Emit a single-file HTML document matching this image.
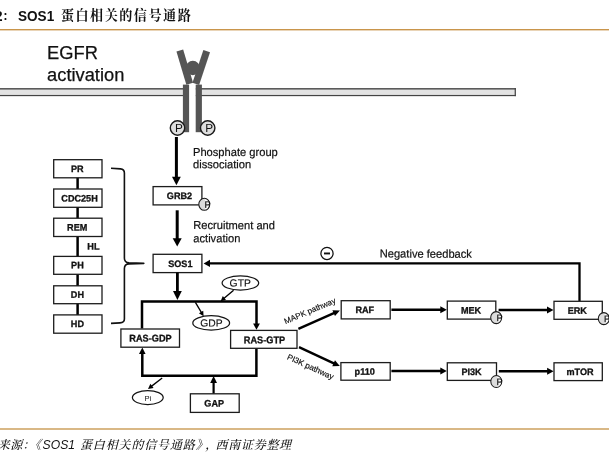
<!DOCTYPE html>
<html lang="zh">
<head>
<meta charset="utf-8">
<title>SOS1 蛋白相关的信号通路</title>
<style>
html,body{margin:0;padding:0;background:#fff;}
#page{position:relative;width:609px;height:453px;overflow:hidden;background:#fff;}
svg{position:absolute;left:0;top:0;display:block;will-change:opacity;}
text{font-family:"Liberation Sans","Noto Serif CJK SC",sans-serif;fill:#111;}
.cjk text{font-family:"Liberation Sans","Noto Serif CJK SC",serif;}
.bx{fill:#fff;stroke:#1c1c1c;stroke-width:1.3;}
.bt{stroke:#111;stroke-width:0.3px;font-weight:bold;text-anchor:middle;fill:#111;}
.lb{font-size:11.15px;fill:#111;stroke:#111;stroke-width:0.2px;}
.pc{fill:#dedede;stroke:#1a1a1a;stroke-width:1.4;}
.ov{fill:#fff;stroke:#151515;stroke-width:1.25;}
</style>
</head>
<body>
<div id="page">
<svg width="609" height="453" viewBox="0 0 609 453">
<defs>
<clipPath id="cps"><ellipse cx="0" cy="0" rx="5.5" ry="6"/></clipPath>
</defs>

<!-- title -->
<g class="cjk" font-weight="bold">
<text x="-24.2" y="20.8" font-size="14.6">图 2</text>
<text x="2.3" y="21" font-size="12">：</text>
<text x="18" y="20.7" font-size="15.4" textLength="36.2" lengthAdjust="spacingAndGlyphs">SOS1</text>
<text x="60.9" y="20.3" font-size="13.1" letter-spacing="1.5">蛋白相关的信号通路</text>
</g>
<rect x="0" y="29" width="609" height="1.4" fill="#c9954b"/>

<!-- EGFR label -->
<text x="47.1" y="59.1" font-size="18.3" fill="#111" stroke="#111" stroke-width="0.25">EGFR</text>
<text x="47.1" y="80.9" font-size="18.3" fill="#111" stroke="#111" stroke-width="0.25">activation</text>

<!-- membrane -->
<rect x="0" y="88.5" width="515.3" height="7" fill="#e3e3e3"/>
<rect x="0" y="88.1" width="515.9" height="1.45" fill="#4c4c4c"/>
<rect x="0" y="94.95" width="515.9" height="1.2" fill="#444"/>
<rect x="514.65" y="88.1" width="1.25" height="8.05" fill="#444"/>

<!-- receptor -->
<rect x="189" y="84.6" width="6.8" height="47.6" fill="#fff"/>
<rect x="182.9" y="84.6" width="6.2" height="47.6" fill="#555"/>
<rect x="195.7" y="84.6" width="6.2" height="47.6" fill="#555"/>
<line x1="179.8" y1="50.6" x2="189.7" y2="83.8" stroke="#555" stroke-width="7"/>
<line x1="206.7" y1="51.1" x2="195.8" y2="83.8" stroke="#555" stroke-width="7"/>
<circle cx="192.8" cy="68" r="7.2" fill="#555"/>

<!-- P circles at receptor -->
<circle class="pc" cx="177.5" cy="128" r="7.2"/>
<text x="179" y="132.4" font-size="11.8" text-anchor="middle">P</text>
<circle class="pc" cx="207.7" cy="128" r="7.2"/>
<text x="209.2" y="132.4" font-size="11.8" text-anchor="middle">P</text>

<!-- P to GRB2 -->
<line x1="176.4" y1="137" x2="176.4" y2="177.5" stroke="#000" stroke-width="3"/>
<polygon fill="#000" points="176.4,185.3 172,176.7 180.8,176.7"/>
<text class="lb" transform="translate(193.0,155.9) rotate(0.05) scale(1,1.035)">Phosphate group</text>
<text class="lb" transform="translate(193.0,168.3) rotate(0.05) scale(1,1.035)">dissociation</text>
<rect class="bx" x="153.1" y="186.6" width="48.8" height="18.3"/>
<text class="bt" font-size="9.3" transform="translate(179.5,199.1) rotate(0.05) scale(0.98,1)">GRB2</text>
<g transform="translate(204.3,204.3)"><ellipse rx="5.5" ry="6" fill="#dcdcdc"/><rect x="0.8" y="-6" width="6" height="12" fill="#fafafa" clip-path="url(#cps)"/><ellipse rx="5.5" ry="6" fill="none" stroke="#1a1a1a" stroke-width="1.05"/><text transform="translate(0.3,3.4) rotate(0.05)" font-size="9.2" stroke="#111" stroke-width="0.25">P</text></g>
<!-- GRB2 to SOS1 -->
<line x1="177.2" y1="210.3" x2="177.2" y2="239.1" stroke="#000" stroke-width="3"/>
<polygon fill="#000" points="177.2,246.5 172.7,238.3 181.7,238.3"/>
<text class="lb" transform="translate(193.3,229.1) rotate(0.05) scale(1,1.035)">Recruitment and</text>
<text class="lb" transform="translate(193.3,242.2) rotate(0.05) scale(1,1.035)">activation</text>
<rect class="bx" x="153.1" y="254.3" width="48.8" height="18.3"/>
<text class="bt" font-size="9.3" transform="translate(180.3,267) rotate(0.05) scale(0.98,1)">SOS1</text>
<!-- negative feedback -->
<polyline fill="none" stroke="#000" stroke-width="2.3" points="579.5,301 579.5,263.4 209,263.4"/>
<polygon fill="#000" points="203.6,263.4 210,259.8 210,267"/>
<circle cx="327" cy="253.4" r="6.1" fill="#fff" stroke="#111" stroke-width="1.25"/>
<rect x="324" y="252.5" width="6" height="1.9" fill="#111"/>
<text class="lb" transform="translate(379.7,257.6) rotate(0.05) scale(1,1.035)">Negative feedback</text>
<!-- domains -->
<line x1="77.6" y1="177" x2="77.6" y2="316" stroke="#000" stroke-width="2.5"/>
<rect class="bx" x="53.7" y="159.7" width="48.3" height="18.1"/>
<text class="bt" font-size="9.3" transform="translate(77.2,172.1) rotate(0.05) scale(0.98,1)">PR</text>
<rect class="bx" x="53.7" y="189" width="48.3" height="18.3"/>
<text class="bt" font-size="9.3" transform="translate(79.5,201.4) rotate(0.05) scale(0.98,1)">CDC25H</text>
<rect class="bx" x="53.7" y="218.2" width="48.3" height="18.3"/>
<text class="bt" font-size="9.3" transform="translate(77.2,230.6) rotate(0.05) scale(0.98,1)">REM</text>
<text class="bt" font-size="9.3" transform="translate(93.4,249.5) rotate(0.05) scale(0.985,1)">HL</text>
<rect class="bx" x="53.7" y="256.4" width="48.3" height="17.9"/>
<text class="bt" font-size="9.3" transform="translate(77.4,268.3) rotate(0.05) scale(0.98,1)">PH</text>
<rect class="bx" x="53.7" y="285.8" width="48.3" height="17.9"/>
<text class="bt" font-size="9.3" transform="translate(77.4,297.7) rotate(0.05) scale(0.98,1)">DH</text>
<rect class="bx" x="53.7" y="314.9" width="48.3" height="18.3"/>
<text class="bt" font-size="9.3" transform="translate(77.4,327) rotate(0.05) scale(0.98,1)">HD</text>
<path d="M111,168.3 L120.5,168.9 Q124.4,169.3 124.4,173 L124.4,258.3 Q124.4,262.5 129,262.9 L143.8,263.4 L129,263.9 Q124.4,264.3 124.4,268.5 L124.4,319 Q124.4,322.6 120,322.9 L111,323.4" fill="none" stroke="#111" stroke-width="1.6" stroke-linejoin="round"/>
<!-- RAS cycle -->
<line x1="177.4" y1="272.6" x2="177.4" y2="291.8" stroke="#000" stroke-width="2.8"/>
<polygon fill="#000" points="177.4,300 173,291 181.8,291"/>
<polyline fill="none" stroke="#000" stroke-width="2.5" points="142,328.6 142,301.5 256.5,301.5 256.5,324.4"/>
<polygon fill="#000" points="253.1,323.6 259.9,323.6 256.5,329.8"/>
<polyline fill="none" stroke="#000" stroke-width="2.5" points="256.4,348.4 256.4,375.7 142.3,375.7 142.3,352.6"/>
<polygon fill="#000" points="139,353.9 145.6,353.9 142.3,347.4"/>
<rect class="bx" x="120.9" y="329" width="58.6" height="18.2"/>
<text class="bt" font-size="9.7" transform="translate(150.5,341.5) rotate(0.05) scale(0.95,1)">RAS-GDP</text>
<rect class="bx" x="230.6" y="330.4" width="66.4" height="17.9"/>
<text class="bt" font-size="9.7" transform="translate(264.5,343.3) rotate(0.05) scale(0.95,1)">RAS-GTP</text>
<!-- GTP GDP -->
<ellipse class="ov" cx="240.4" cy="283" rx="18.3" ry="7.1"/>
<text transform="translate(240.2,286.5) rotate(0.05)" font-size="10.3" text-anchor="middle" fill="#1a1a1a" stroke="#1a1a1a" stroke-width="0.15">GTP</text>
<line x1="233.6" y1="290.2" x2="223.81" y2="298.49" stroke="#000" stroke-width="1.3"/>
<polygon fill="#000" points="220.6,301.2 222.8,296.06 226.03,299.88"/>
<ellipse class="ov" cx="211.2" cy="322.9" rx="18.4" ry="7.2"/>
<text transform="translate(211.5,326.5) rotate(0.05)" font-size="10.3" text-anchor="middle" fill="#1a1a1a" stroke="#1a1a1a" stroke-width="0.15">GDP</text>
<line x1="195.4" y1="302.3" x2="201.48" y2="312.68" stroke="#000" stroke-width="1.3"/>
<polygon fill="#000" points="203.6,316.3 198.92,313.25 203.23,310.72"/>
<!-- Pi / GAP -->
<ellipse class="ov" cx="147.8" cy="397.6" rx="15.4" ry="7.0"/>
<text x="147.9" y="400.5" font-size="7.6" text-anchor="middle" fill="#606060">Pi</text>
<line x1="162.2" y1="378.1" x2="151.34" y2="386.36" stroke="#000" stroke-width="1.3"/>
<polygon fill="#000" points="148,388.9 150.41,383.8 153.55,387.94"/>
<line x1="213.6" y1="393.8" x2="213.6" y2="382.3" stroke="#000" stroke-width="2.2"/>
<polygon fill="#000" points="213.6,376.1 217,383.1 210.2,383.1"/>
<rect class="bx" x="190.4" y="393.8" width="48.8" height="18.6"/>
<text class="bt" font-size="9.3" transform="translate(214.2,406.4) rotate(0.05) scale(0.98,1)">GAP</text>
<!-- pathways -->
<line x1="298.4" y1="328.9" x2="334.42" y2="312.84" stroke="#000" stroke-width="2.4"/>
<polygon fill="#000" points="339.9,310.4 334.99,316.09 332.39,310.25"/>
<line x1="299" y1="347.2" x2="334.36" y2="363.58" stroke="#000" stroke-width="2.4"/>
<polygon fill="#000" points="339.8,366.1 332.28,366.15 334.97,360.34"/>
<text font-size="8.1" fill="#000" stroke="#000" stroke-width="0.15" transform="translate(285.5,324.2) rotate(-23)">MAPK pathway</text>
<text font-size="8.15" fill="#000" stroke="#000" stroke-width="0.15" transform="translate(286.5,358.9) rotate(24.5)">PI3K pathway</text>
<rect class="bx" x="341.2" y="300.7" width="49" height="18.2"/>
<text class="bt" font-size="9.3" transform="translate(364.8,313) rotate(0.05) scale(0.98,1)">RAF</text>
<line x1="391.4" y1="309.7" x2="441.1" y2="309.7" stroke="#000" stroke-width="2.4"/>
<polygon fill="#000" points="446.8,309.7 440.3,313.15 440.3,306.25"/>
<rect class="bx" x="447.3" y="301.1" width="48.5" height="18"/>
<text class="bt" font-size="9.3" transform="translate(471,313.6) rotate(0.05) scale(0.98,1)">MEK</text>
<line x1="498.6" y1="310" x2="547.8" y2="310" stroke="#000" stroke-width="2.4"/>
<polygon fill="#000" points="553.5,310 547,313.45 547,306.55"/>
<rect class="bx" x="554" y="301.3" width="48.3" height="18"/>
<text class="bt" font-size="9.3" transform="translate(577.3,313.8) rotate(0.05) scale(0.98,1)">ERK</text>
<g transform="translate(496.2,317.6)"><ellipse rx="5.5" ry="6" fill="#dcdcdc"/><rect x="0.8" y="-6" width="6" height="12" fill="#fafafa" clip-path="url(#cps)"/><ellipse rx="5.5" ry="6" fill="none" stroke="#1a1a1a" stroke-width="1.05"/><text transform="translate(0.3,3.4) rotate(0.05)" font-size="9.2" stroke="#111" stroke-width="0.25">P</text></g>
<g transform="translate(603.8,318.6)"><ellipse rx="5.5" ry="6" fill="#dcdcdc"/><rect x="0.8" y="-6" width="6" height="12" fill="#fafafa" clip-path="url(#cps)"/><ellipse rx="5.5" ry="6" fill="none" stroke="#1a1a1a" stroke-width="1.05"/><text transform="translate(0.3,3.4) rotate(0.05)" font-size="9.2" stroke="#111" stroke-width="0.25">P</text></g>
<rect class="bx" x="340.9" y="362.6" width="49.3" height="17.6"/>
<text class="bt" font-size="9.3" transform="translate(364.7,374.8) rotate(0.05) scale(0.98,1)">p110</text>
<line x1="391.4" y1="371" x2="441.1" y2="371" stroke="#000" stroke-width="2.4"/>
<polygon fill="#000" points="446.8,371 440.3,374.45 440.3,367.55"/>
<rect class="bx" x="447.3" y="362.8" width="49.2" height="17.6"/>
<text class="bt" font-size="9.3" transform="translate(471.5,375) rotate(0.05) scale(0.98,1)">PI3K</text>
<line x1="498.8" y1="371.3" x2="547.9" y2="371.3" stroke="#000" stroke-width="2.4"/>
<polygon fill="#000" points="553.6,371.3 547.1,374.75 547.1,367.85"/>
<rect class="bx" x="554" y="362.8" width="48.3" height="17.8"/>
<text class="bt" font-size="9.3" transform="translate(580,375) rotate(0.05) scale(0.98,1)">mTOR</text>
<g transform="translate(496.3,381.5)"><ellipse rx="5.5" ry="6" fill="#dcdcdc"/><rect x="0.8" y="-6" width="6" height="12" fill="#fafafa" clip-path="url(#cps)"/><ellipse rx="5.5" ry="6" fill="none" stroke="#1a1a1a" stroke-width="1.05"/><text transform="translate(0.3,3.4) rotate(0.05)" font-size="9.2" stroke="#111" stroke-width="0.25">P</text></g>

<!-- footer -->
<rect x="0" y="428" width="609" height="2" fill="#d9b886"/>
<g class="cjk" font-style="italic" font-size="12" font-weight="500">
<text x="-27" y="448.9" letter-spacing="0.4">数据来源：《</text>
<text x="42.6" y="448.7" font-size="13.4" textLength="32.4" lengthAdjust="spacingAndGlyphs" font-weight="400">SOS1</text>
<text x="80" y="448.9" letter-spacing="0.85">蛋白相关的信号通路》</text>
<text x="205.2" y="448.9">，</text>
<text x="215.6" y="448.9" letter-spacing="0.7">西南证券整理</text>
</g>
</svg>
</div>
</body>
</html>
